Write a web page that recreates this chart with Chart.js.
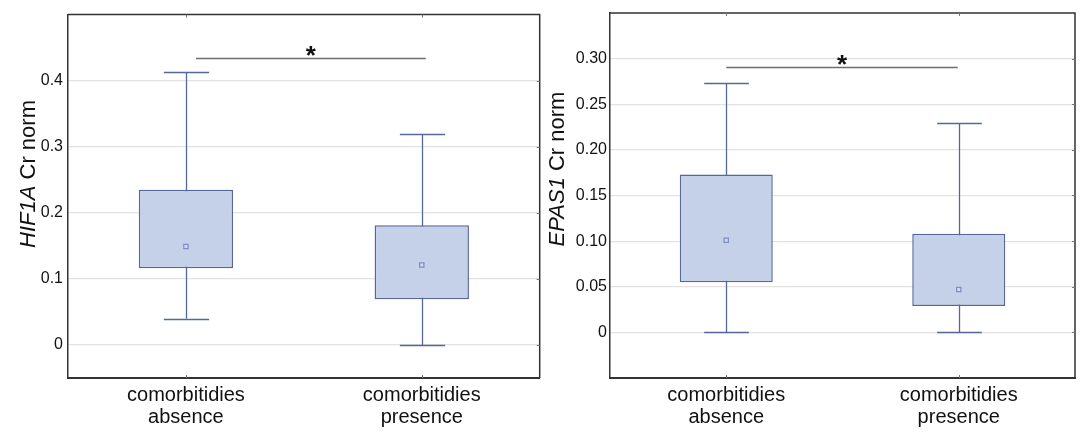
<!DOCTYPE html>
<html>
<head>
<meta charset="utf-8">
<script src="https://cdn.jsdelivr.net/npm/chart.js@4/dist/chart.umd.min.js"></script>
<style>
  html, body { margin: 0; padding: 0; background: #ffffff; }
  #wrap { position: relative; width: 1088px; height: 440px; overflow: hidden; }
  .panel { position: absolute; top: 0; height: 440px; }
  #p1 { left: 0; width: 545px; }
  #p2 { left: 545px; width: 543px; }
</style>
</head>
<body>
<div id="wrap">
  <div class="panel" id="p1"><canvas id="c1" width="545" height="440"></canvas></div>
  <div class="panel" id="p2"><canvas id="c2" width="543" height="440"></canvas></div>
</div>
<script>
// ---------- DATA ----------
const categories = [["comorbitidies", "absence"], ["comorbitidies", "presence"]];

// HIF1A panel
const hifMin  = [0.040, 0.000];
const hifQ1   = [0.116, 0.069];
const hifQ3   = [0.235, 0.181];
const hifMax  = [0.413, 0.319];
const hifMean = [0.149, 0.121];
const hifTicks = [0, 0.1, 0.2, 0.3, 0.4];
const hifTickLabels = ["0", "0.1", "0.2", "0.3", "0.4"];
const hifSig = 0.434;

// EPAS1 panel
const epaMin  = [0.000, 0.000];
const epaQ1   = [0.055, 0.029];
const epaQ3   = [0.173, 0.108];
const epaMax  = [0.273, 0.229];
const epaMean = [0.101, 0.047];
const epaTicks = [0, 0.05, 0.10, 0.15, 0.20, 0.25, 0.30];
const epaTickLabels = ["0", "0.05", "0.10", "0.15", "0.20", "0.25", "0.30"];
const epaSig = 0.291;

// ---------- STYLE ----------
const FONT = "'Liberation Sans', Arial, sans-serif";
const BOX_FILL = "#c5d1e8";
const BOX_LINE = "#56679a";
const MEAN_LINE = "#7d8ec2";
const GRID = "#e6e1e1";
const AXIS = "#333333";

const boxPlugin = {
  id: 'boxExtras',
  beforeDatasetsDraw(chart, args, opts) {
    const ctx = chart.ctx;
    const x = chart.scales.x, y = chart.scales.y;
    const meta = chart.getDatasetMeta(0);
    ctx.save();
    ctx.strokeStyle = BOX_LINE;
    ctx.lineWidth = 1.3;
    opts.min.forEach((v, i) => {
      const bw = meta.data[i].width;
      const cx = Math.round(x.getPixelForValue(i)) + 0.5;
      const half = bw * 0.24;
      const yMin = y.getPixelForValue(opts.min[i]);
      const yMax = y.getPixelForValue(opts.max[i]);
      ctx.beginPath();
      ctx.moveTo(cx, yMin); ctx.lineTo(cx, yMax);
      ctx.moveTo(cx - half, Math.round(yMin) + 0.5); ctx.lineTo(cx + half, Math.round(yMin) + 0.5);
      ctx.moveTo(cx - half, Math.round(yMax) + 0.5); ctx.lineTo(cx + half, Math.round(yMax) + 0.5);
      ctx.stroke();
    });
    ctx.restore();
  },
  afterDraw(chart, args, opts) {
    const ctx = chart.ctx;
    const a = chart.chartArea;
    const x = chart.scales.x, y = chart.scales.y;
    ctx.save();
    // top and right frame
    ctx.strokeStyle = AXIS;
    ctx.lineWidth = 1.5;
    ctx.beginPath();
    ctx.moveTo(a.left, a.top); ctx.lineTo(a.right, a.top); ctx.lineTo(a.right, a.bottom);
    ctx.stroke();
    // small tick marks on frame
    ctx.strokeStyle = "#777777";
    ctx.lineWidth = 1;
    ctx.beginPath();
    opts.ticks.forEach(t => {
      const py = Math.round(y.getPixelForValue(t)) + 0.5;
      ctx.moveTo(a.right - 3, py); ctx.lineTo(a.right, py);
    });
    categories.forEach((c, i) => {
      const px = Math.round(x.getPixelForValue(i)) + 0.5;
      ctx.moveTo(px, a.top); ctx.lineTo(px, a.top + 3);
      ctx.moveTo(px, a.bottom); ctx.lineTo(px, a.bottom - 3);
    });
    ctx.stroke();
    // significance bar
    const sy = Math.round(y.getPixelForValue(opts.sig)) + 0.5;
    const x0 = x.getPixelForValue(0) + opts.sigOff[0];
    const x1 = x.getPixelForValue(1) + opts.sigOff[1];
    ctx.strokeStyle = "#6e6e6e";
    ctx.lineWidth = 1.3;
    ctx.beginPath();
    ctx.moveTo(x0, sy); ctx.lineTo(x1, sy);
    ctx.stroke();
    ctx.fillStyle = "#111111";
    ctx.font = "bold 26px " + FONT;
    ctx.textAlign = "center";
    ctx.textBaseline = "alphabetic";
    ctx.fillText("*", (x0 + x1) / 2, sy + 5);
    // y-axis title with italic gene name
    ctx.translate(opts.titleX, opts.titleY);
    ctx.rotate(-Math.PI / 2);
    ctx.textBaseline = "middle";
    ctx.textAlign = "left";
    ctx.fillStyle = "#111111";
    const italicFont = "italic 22px " + FONT;
    const normalFont = "22px " + FONT;
    ctx.font = italicFont;
    const w1 = ctx.measureText(opts.gene).width;
    ctx.font = normalFont;
    const w2 = ctx.measureText(" Cr norm").width;
    const start = -(w1 + w2) / 2;
    ctx.font = italicFont;
    ctx.fillText(opts.gene, start, 0);
    ctx.font = normalFont;
    ctx.fillText(" Cr norm", start + w1, 0);
    ctx.restore();
  }
};

function makeChart(id, q1, q3, mn, mx, mean, ticks, tickLabels, yMin, yMax, sig, sigOff, gene, yWidth, padRight, titleX, titleY, tickPad) {
  const boxes = q1.map((v, i) => [v, q3[i]]);
  return new Chart(document.getElementById(id), {
    type: 'bar',
    data: {
      labels: categories,
      datasets: [
        {
          type: 'bar',
          data: boxes,
          backgroundColor: BOX_FILL,
          borderColor: BOX_LINE,
          borderWidth: 1.5,
          borderSkipped: false,
          categoryPercentage: 1.0,
          barPercentage: 0.4,
          order: 2
        },
        {
          type: 'line',
          data: mean,
          showLine: false,
          pointStyle: 'rect',
          pointRadius: 3,
          pointBorderWidth: 1.3,
          pointBackgroundColor: "#d3dcee",
          pointBorderColor: MEAN_LINE,
          order: 1
        }
      ]
    },
    options: {
      responsive: false,
      animation: false,
      devicePixelRatio: 1,
      layout: { padding: { top: 13, right: padRight, left: 0, bottom: 0 } },
      plugins: {
        legend: { display: false },
        tooltip: { enabled: false },
        boxExtras: { min: mn, max: mx, ticks: ticks, sig: sig, sigOff: sigOff, gene: gene, titleX: titleX, titleY: titleY }
      },
      scales: {
        x: {
          grid: { display: false, drawTicks: false },
          border: { display: true, color: AXIS, width: 2 },
          ticks: {
            color: "#111111",
            font: { family: FONT, size: 20, lineHeight: 1.1 },
            padding: 6,
            maxRotation: 0,
            autoSkip: false
          },
          afterFit(s) { s.height = 62; }
        },
        y: {
          min: yMin,
          max: yMax,
          afterBuildTicks(s) { s.ticks = ticks.map(v => ({ value: v })); },
          grid: { color: GRID, lineWidth: 1.2, drawTicks: false },
          border: { display: true, color: AXIS, width: 1.5 },
          ticks: {
            color: "#111111",
            font: { family: FONT, size: 16 },
            padding: tickPad,
            callback(v) { const k = ticks.findIndex(t => Math.abs(t - v) < 1e-9); return k >= 0 ? tickLabels[k] : ''; }
          },
          afterFit(s) { s.width = yWidth; }
        }
      }
    },
    plugins: [boxPlugin]
  });
}

makeChart('c1', hifQ1, hifQ3, hifMin, hifMax, hifMean, hifTicks, hifTickLabels,
  -0.05, 0.5, hifSig, [10, 4], "HIF1A", 68, 2, 29, 174, 5);
makeChart('c2', epaQ1, epaQ3, epaMin, epaMax, epaMean, epaTicks, epaTickLabels,
  -0.05, 0.35, epaSig, [0, -1], "EPAS1", 65, 13, 13, 169, 3);
</script>
</body>
</html>
